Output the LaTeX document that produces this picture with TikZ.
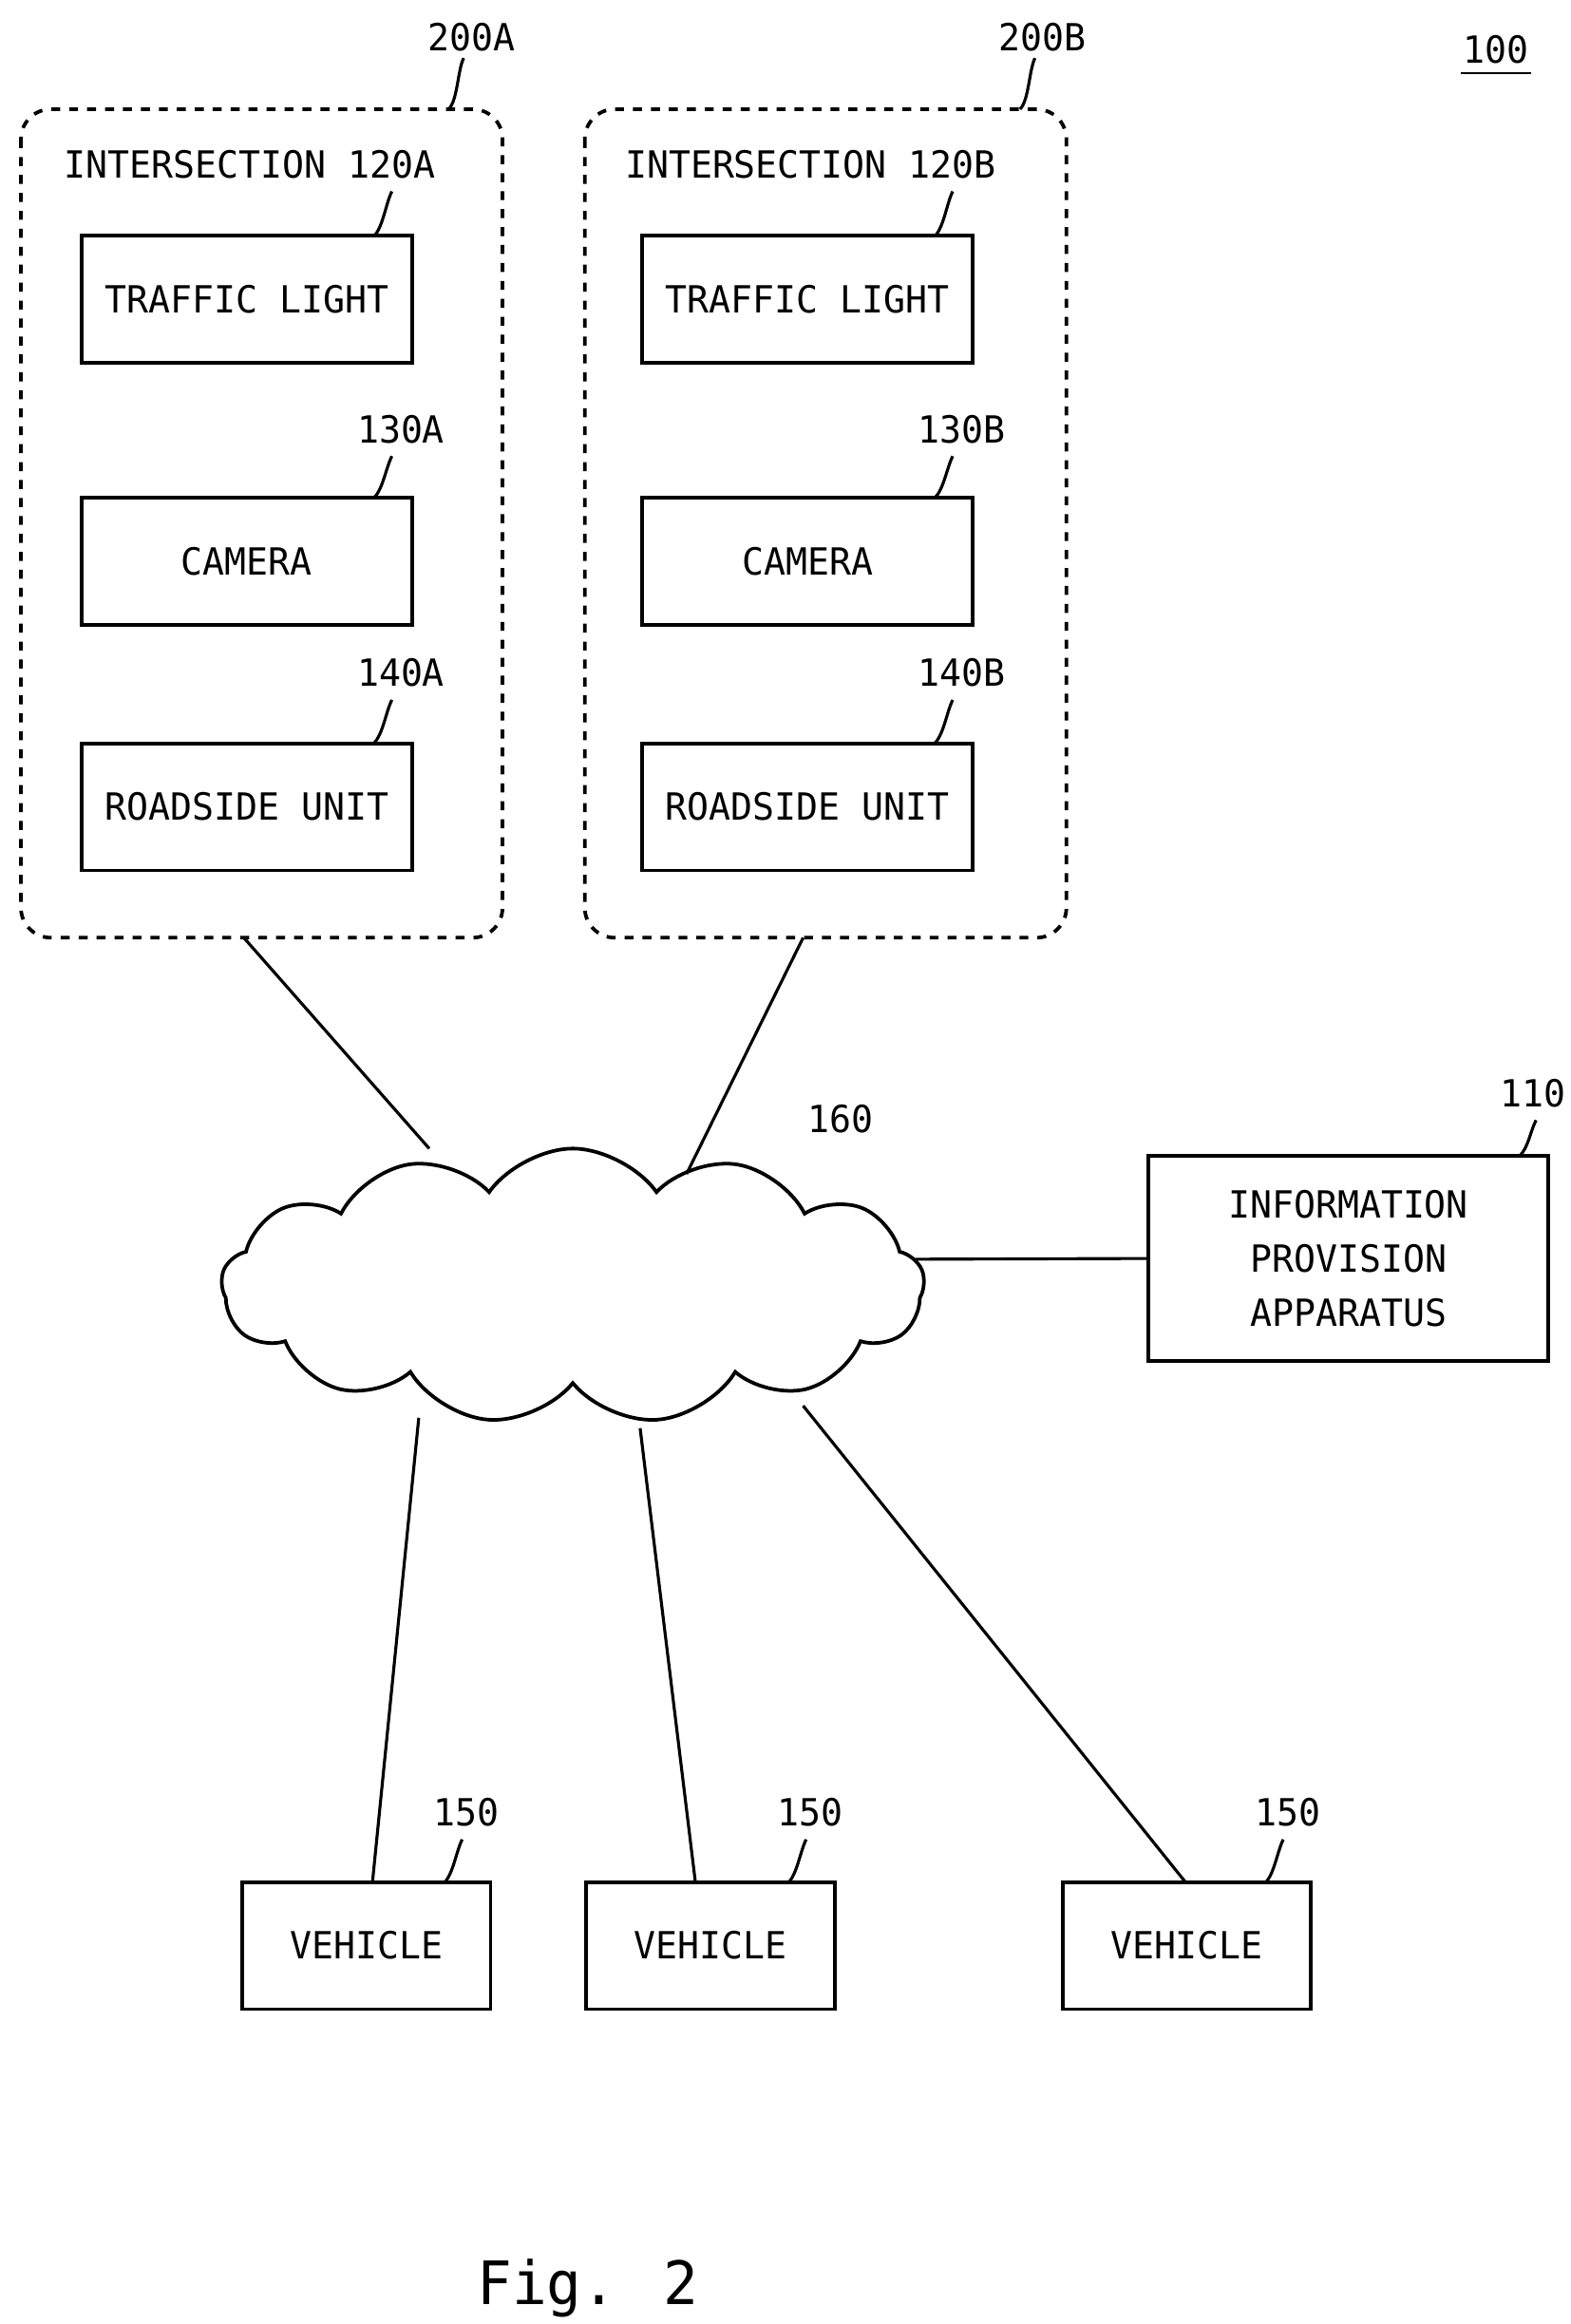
\documentclass[tikz,border=0pt]{standalone}
\usepackage{fontspec}
\setmainfont{DejaVu Sans Mono}[FakeStretch=0.97]
\usetikzlibrary{shapes.symbols}
\begin{document}
\begin{tikzpicture}[x=0.5pt,y=-0.5pt,
  box/.style={draw,line width=1.2pt,minimum width=110.5pt,minimum height=42.5pt,inner sep=0pt,font=\fontsize{12.5}{15}\selectfont},
  vbox/.style={box,minimum width=83pt},
  grp/.style={draw,dashed,line width=1.2pt,rounded corners=10pt},
  lbl/.style={font=\fontsize{12.5}{15}\selectfont,inner sep=0pt},
  ln/.style={line width=1pt}]
\useasboundingbox (0,0) rectangle (1050,1554);
\node[lbl] (n100) at (1000,33) {100};
\draw[line width=0.8pt] (977,49) -- (1024,49);
% groups
\draw[grp] (14,73) rectangle (336,627);
\draw[grp] (391,73) rectangle (713,627);
\node[lbl] (l200A) at (315,25) {200A};
\node[lbl] (l200B) at (697,25) {200B};
\draw[ln] (l200A.south) ++(-5,4) .. controls +(-4,8) and +(6,-6) .. (300,73);
\draw[ln] (l200B.south) ++(-5,4) .. controls +(-4,8) and +(6,-6) .. (682,73);
\foreach \s/\x in {A/165,B/540}{
  \node[lbl] (int\s) at (\x+2,110) {INTERSECTION 120\s};
  \node[box] (tl\s) at (\x,200) {TRAFFIC LIGHT};
  \node[box] (cam\s) at (\x,375.5) {CAMERA};
  \node[box] (rsu\s) at (\x,539.5) {ROADSIDE UNIT};
  \node[lbl] (l130\s) at (\x+103,287) {130\s};
  \node[lbl] (l140\s) at (\x+103,450) {140\s};
  \draw[ln] (\x+97,128) .. controls +(-4,8) and +(6,-6) .. (\x+85,158);
  \draw[ln] (\x+97,305) .. controls +(-4,8) and +(6,-6) .. (\x+85,333);
  \draw[ln] (\x+97,468) .. controls +(-4,8) and +(6,-6) .. (\x+85,497);
}
% cloud
\node[cloud,draw,line width=1.2pt,cloud puffs=13,cloud puff arc=110,minimum width=235pt,minimum height=92pt,aspect=2.6] (net) at (383,860) {};
\node[lbl] (l160) at (562,748) {160};
\coordinate (cA) at (287,768); \coordinate (cB) at (459,785); \coordinate (cR) at (612,842);
\coordinate (c1) at (280,948); \coordinate (c2) at (428,955); \coordinate (c3) at (537,940);
\draw[ln] (163,627) -- (cA);
\draw[ln] (537,627) -- (cB);
% info
\node[draw,line width=1.2pt,minimum width=133.5pt,minimum height=68.5pt,align=center,inner sep=0pt,font=\fontsize{12.5}{18}\selectfont] (info) at (901.5,841.5) {INFORMATION\\PROVISION\\APPARATUS};
\node[lbl] (l110) at (1025,731) {110};
\draw[ln] (1027,749) .. controls +(-4,8) and +(6,-6) .. (1016,773);
\draw[ln] (cR) -- (info.west);
% vehicles
\node[vbox] (v1) at (245,1301) {VEHICLE};
\node[vbox] (v2) at (475,1301) {VEHICLE};
\node[vbox] (v3) at (793.5,1301) {VEHICLE};
\foreach \x/\n in {312/1,542/2,861/3}{
  \node[lbl] (l150\n) at (\x,1212) {150};
  \draw[ln] (\x-3,1230) .. controls +(-4,8) and +(6,-6) .. (\x-15,1259);
}
\draw[ln] (c1) -- (249,1259);
\draw[ln] (c2) -- (465,1259);
\draw[ln] (c3) -- (793,1259);
\node[lbl,font=\fontsize{20}{24}\selectfont] (fig) at (393,1530) {Fig. 2};
\end{tikzpicture}
\end{document}
